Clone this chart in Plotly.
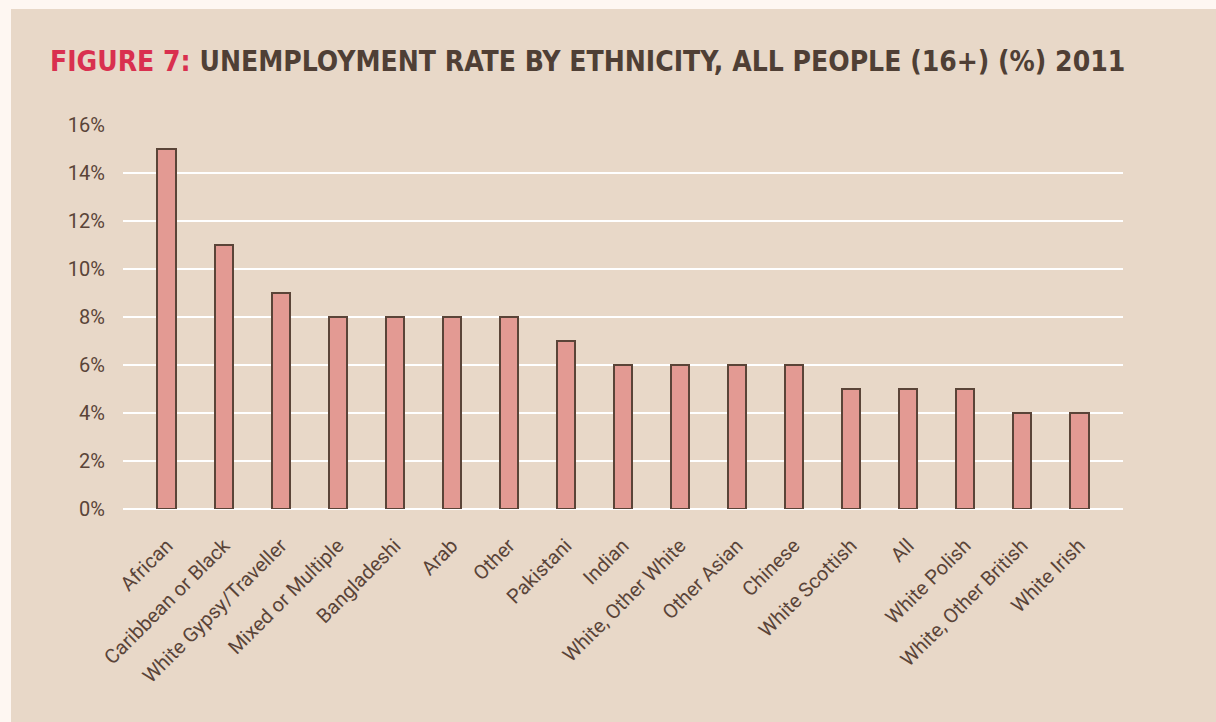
import plotly.graph_objects as go

categories = ["African", "Caribbean or Black", "White Gypsy/Traveller", "Mixed or Multiple",
              "Bangladeshi", "Arab", "Other", "Pakistani", "Indian", "White, Other White",
              "Other Asian", "Chinese", "White Scottish", "All", "White Polish",
              "White, Other British", "White Irish"]
values = [15, 11, 9, 8, 8, 8, 8, 7, 6, 6, 6, 6, 5, 5, 5, 4, 4]
y_ticks = [0, 2, 4, 6, 8, 10, 12, 14, 16]
y_tick_labels = ["0%", "2%", "4%", "6%", "8%", "10%", "12%", "14%", "16%"]

W, H = 1216, 722
L, R, T, B = 123, 1123, 125, 509

panel = "#e8d8c8"
outer = "#fef7f2"
brown = "#5a4438"

fig = go.Figure()
fig.add_trace(go.Bar(
    x=list(range(len(categories))), y=values, width=0.33,
    marker=dict(color="#e39a93", line=dict(color=brown, width=2)),
    hoverinfo="skip",
))

pw, ph = R - L, B - T
fig.add_shape(type="rect", xref="paper", yref="paper", layer="below",
              x0=(11 - L) / pw, x1=(W + 5 - L) / pw,
              y0=(B - (H + 5)) / ph, y1=(B - 9) / ph,
              fillcolor=panel, line=dict(width=0))

fig.update_layout(
    width=W, height=H,
    margin=dict(l=L, r=W - R, t=T, b=H - B, pad=0),
    paper_bgcolor=outer, plot_bgcolor="rgba(0,0,0,0)",
    showlegend=False,
    title=dict(
        text="<span style='color:#d9304f'>FIGURE 7:</span> UNEMPLOYMENT RATE BY ETHNICITY, ALL PEOPLE (16+) (%) 2011",
        font=dict(family="DejaVu Sans Condensed", size=28, color="#4f3f35", weight="bold"),
        xref="container", yref="container", x=50 / W, xanchor="left",
        y=1 - 61 / H, yanchor="middle",
    ),
    xaxis=dict(
        range=[-0.77, len(categories) - 0.23],
        tickmode="array", tickvals=list(range(len(categories))), ticktext=categories,
        tickangle=-45, showgrid=False, zeroline=False, showline=False, ticks="",
        ticklabelstandoff=20,
        tickfont=dict(family="Roboto", size=20, color=brown),
        fixedrange=True,
    ),
    yaxis=dict(
        range=[0, 16], tickmode="array", tickvals=y_ticks, ticktext=y_tick_labels,
        showgrid=True, gridcolor="#ffffff", gridwidth=2,
        zeroline=True, zerolinecolor="#ffffff", zerolinewidth=2,
        showline=False, ticks="", ticklabelstandoff=17,
        tickfont=dict(family="Roboto", size=20, color=brown),
        fixedrange=True,
    ),
    bargap=0,
)

fig.write_html(
    "out.html",
    config={"displayModeBar": False},
    post_script="document.body.style.margin='0';document.body.style.background='%s';" % outer,
)
